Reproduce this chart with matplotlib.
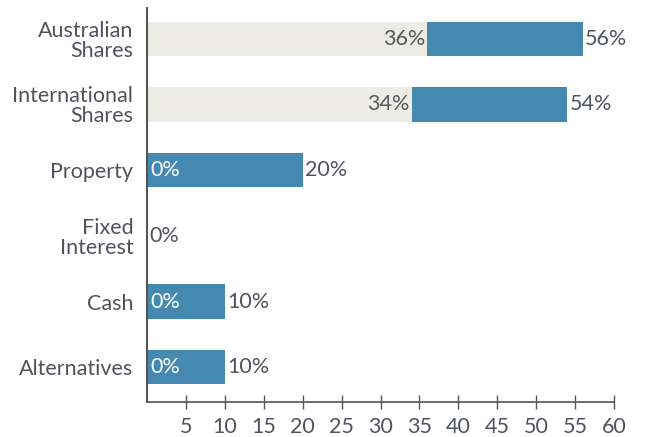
import matplotlib.pyplot as plt
import numpy as np

plt.rcParams['font.family'] = ['Lato', 'DejaVu Sans']

categories = ["Australian\nShares", "International\nShares", "Property", "Fixed\nInterest", "Cash", "Alternatives"]
previous = [36, 34, 0, 0, 0, 0]
current = [56, 54, 20, 0, 10, 10]
xticks = [5, 10, 15, 20, 25, 30, 35, 40, 45, 50, 55, 60]

blue = "#4589b0"
light = "#ecebe4"
textc = "#4f535b"
fs = 15.5

fig = plt.figure(figsize=(6.46, 4.37), dpi=100)
ax = fig.add_axes([0.2276, 0.080, 0.7229, 0.902])

y = np.arange(len(categories))
prev = np.array(previous)
cur = np.array(current)

ax.barh(y, prev, height=0.52, color=light)
ax.barh(y, cur - prev, left=prev, height=0.52, color=blue)

for i in range(len(categories)):
    if prev[i] > 0:
        ax.text(prev[i] - 0.3, y[i], f"{prev[i]}%", ha="right", va="center",
                fontsize=fs, color="#55585d")
    elif cur[i] > 0:
        ax.text(0.4, y[i], f"{prev[i]}%", ha="left", va="center",
                fontsize=fs, color="white")
    ax.text(cur[i] + 0.3, y[i], f"{cur[i]}%", ha="left", va="center",
            fontsize=fs, color=textc)

ax.set_xlim(0, 60)
ax.set_ylim(5.53, -0.47)
ax.set_yticks(y)
ax.set_yticklabels(categories, fontsize=fs, color=textc, linespacing=1.0)
ax.set_xticks(xticks)
ax.set_xticklabels([str(t) for t in xticks], fontsize=fs, color=textc)
ax.tick_params(axis="y", length=0, pad=10)
ax.tick_params(axis="x", direction="inout", length=10, width=1, color="#555", pad=6)

for s in ["top", "right"]:
    ax.spines[s].set_visible(False)
ax.spines["left"].set_color("#555")
ax.spines["bottom"].set_color("#555")
ax.spines["left"].set_linewidth(1.5)
ax.spines["bottom"].set_linewidth(1.2)

plt.savefig("out.png", dpi=100)
